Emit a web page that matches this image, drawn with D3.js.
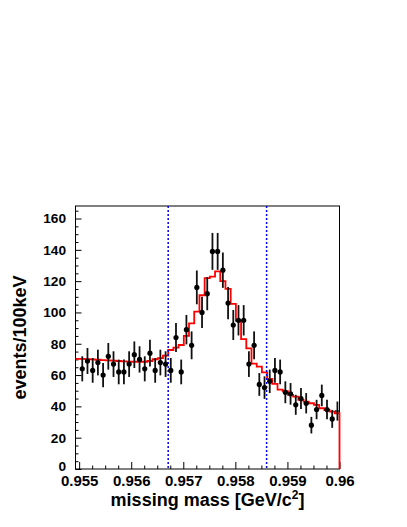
<!DOCTYPE html>
<html>
<head>
<meta charset="utf-8">
<script src="https://cdn.jsdelivr.net/npm/d3@7"></script>
<style>
  html, body { margin: 0; padding: 0; background: #fff; }
  svg { display: block; }
  text { font-family: "Liberation Sans", Arial, Helvetica, sans-serif; font-weight: bold; fill: #000; }
</style>
</head>
<body>
<svg id="chart" width="407" height="527"></svg>
<script>
// ---- data ----
const binStart = 0.95501;   // lower edge of first 100 keV bin (GeV)
const binWidth = 0.0001;
const counts = [64, 69, 63, 68, 60, 72, 67, 62, 62, 67,
                73, 70, 64, 74, 63, 68, 67, 63, 84, 62,
                89, 79, 116, 100, 112, 139, 139, 127, 106, 92,
                95, 95, 67, 79, 54, 52, 56, 63, 62, 49,
                48, 41, 45, 42, 28, 38, 47, 38, 32, 37];
const errors = [8.0, 8.3, 7.9, 8.2, 7.7, 8.5, 8.2, 7.9, 7.9, 8.2,
                8.5, 8.4, 8.0, 8.6, 7.9, 8.2, 8.2, 7.9, 9.2, 7.9,
                9.4, 8.9, 10.8, 10.0, 10.6, 11.8, 11.8, 11.3, 10.3, 9.6,
                9.7, 9.7, 8.2, 8.9, 7.3, 7.2, 7.5, 7.9, 7.9, 7.0,
                6.9, 6.4, 6.7, 6.5, 5.3, 6.2, 6.9, 6.2, 5.7, 6.1];
const fitValues = [70.3, 70.2, 70.0, 69.8, 69.6, 69.4, 69.2, 69.0, 68.8, 68.6,
                   68.5, 68.4, 68.5, 69.0, 70.1, 70.8, 72.4, 76.0, 77.5, 79.2,
                   85.0, 93.0, 100.5, 111.0, 121.9, 122.9, 126.3, 120.0, 115.0, 105.5,
                   94.6, 83.0, 77.1, 67.3, 65.4, 61.7, 57.5, 54.4, 50.7, 49.8,
                   47.3, 46.2, 44.1, 43.0, 42.0, 40.9, 38.8, 37.7, 36.6, 35.6];
const cutLines = [0.95671, 0.95860];
const xTicks = [0.955, 0.956, 0.957, 0.958, 0.959, 0.96];
const xTickLabels = ["0.955", "0.956", "0.957", "0.958", "0.959", "0.96"];
const yTicks = [0, 20, 40, 60, 80, 100, 120, 140, 160];
const yTickLabels = ["0", "20", "40", "60", "80", "100", "120", "140", "160"];
const xDomain = [0.95493, 0.96];
const yDomain = [0, 168];

// ---- layout ----
const L = 75.5, R = 339.5, T = 206, B = 469;
const svg = d3.select("#chart");
const x = d3.scaleLinear().domain(xDomain).range([L, R]);
const y = d3.scaleLinear().domain(yDomain).range([B, T]);

const binLo = counts.map((_, i) => binStart + i * binWidth);
const binCenter = binLo.map(v => v + binWidth / 2);

// minor ticks
const xMinor = d3.range(0, 21).map(k => 0.955 + k * 0.00025).filter(v => !xTicks.some(t => Math.abs(t - v) < 1e-9));
const yMinor = d3.range(0, 34).map(k => k * 5).filter(v => v % 20 !== 0 && v <= 168);

// frame
svg.append("rect").attr("x", L).attr("y", T).attr("width", R - L).attr("height", B - T)
  .attr("fill", "none").attr("stroke", "#000").attr("stroke-width", 1);

// x axis
const gx = svg.append("g").attr("transform", `translate(0,${B})`);
gx.call(d3.axisBottom(x).tickValues(xTicks).tickSize(-7)
  .tickFormat((d, i) => xTickLabels[i]));
gx.select(".domain").remove();
gx.selectAll("text").attr("y", 17).attr("dy", 0).style("font-size", "15px");
const gxm = svg.append("g").attr("transform", `translate(0,${B})`);
gxm.call(d3.axisBottom(x).tickValues(xMinor).tickSize(-3.5).tickFormat(""));
gxm.select(".domain").remove();

// y axis
const gy = svg.append("g").attr("transform", `translate(${L},0)`);
gy.call(d3.axisLeft(y).tickValues(yTicks).tickSize(-6).tickPadding(9.5)
  .tickFormat((d, i) => yTickLabels[i]));
gy.select(".domain").remove();
gy.selectAll("text").style("font-size", "13.7px");
// the "0" label sits just above the x labels, as in the reference
gy.selectAll(".tick").filter(d => d === 0).select("text").attr("dy", "0.1em");
const gym = svg.append("g").attr("transform", `translate(${L},0)`);
gym.call(d3.axisLeft(y).tickValues(yMinor).tickSize(-3).tickFormat(""));
gym.select(".domain").remove();

svg.selectAll(".tick line").attr("stroke", "#000").attr("stroke-width", 1);

// fit histogram (red steps)
const pts = [];
fitValues.forEach((v, i) => {
  const lo = Math.max(binLo[i], xDomain[0]);
  const hi = Math.min(binLo[i] + binWidth, xDomain[1]);
  pts.push([x(i === 0 ? xDomain[0] : lo), y(v)]);
  pts.push([x(hi), y(v)]);
});
pts.push([x(xDomain[1]), y(0)]);
svg.append("path").attr("d", d3.line()(pts))
  .attr("fill", "none").attr("stroke", "#ff0000").attr("stroke-width", 1.8);

// cut lines
svg.selectAll(".cut").data(cutLines).enter().append("line")
  .attr("x1", d => x(d)).attr("x2", d => x(d))
  .attr("y1", y(yDomain[1])).attr("y2", y(0))
  .attr("stroke", "#0000ff").attr("stroke-width", 1.5).attr("stroke-dasharray", "2,2");

// data points with error bars
const g = svg.append("g");
counts.forEach((c, i) => {
  const cx = x(binCenter[i]);
  g.append("line").attr("x1", cx).attr("x2", cx)
    .attr("y1", y(c - errors[i])).attr("y2", y(c + errors[i]))
    .attr("stroke", "#111").attr("stroke-width", 1.8);
  if (i === counts.length - 1) {
    g.append("line").attr("x1", cx - 2.6).attr("x2", cx + 2.6)
      .attr("y1", y(c)).attr("y2", y(c)).attr("stroke", "#111").attr("stroke-width", 1.4);
  } else {
    g.append("circle").attr("cx", cx).attr("cy", y(c)).attr("r", 2.6).attr("fill", "#000");
  }
});

// axis titles
const xt = svg.append("text").attr("x", (L + R) / 2).attr("y", 506)
  .attr("text-anchor", "middle").style("font-size", "18px");
xt.append("tspan").text("missing mass [GeV/c");
xt.append("tspan").attr("dy", -7).style("font-size", "12px").text("2");
xt.append("tspan").attr("dy", 7).text("]");

svg.append("text").attr("transform", `translate(26,${(T + B) / 2}) rotate(-90)`)
  .attr("text-anchor", "middle").style("font-size", "18px").text("events/100keV");
</script>
</body>
</html>
